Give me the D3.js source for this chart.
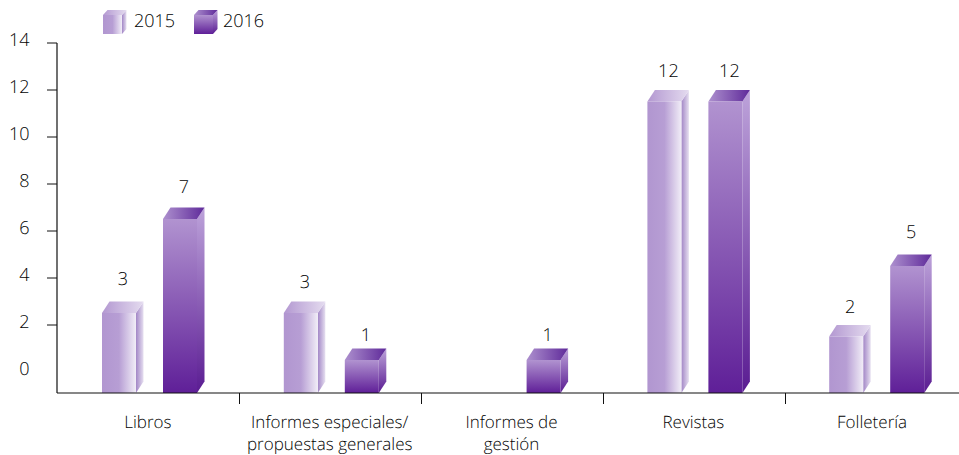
<!DOCTYPE html>
<html><head><meta charset="utf-8">
<script src="https://cdn.jsdelivr.net/npm/d3@7/dist/d3.min.js"></script>
<style>html,body{margin:0;padding:0;background:#fff}svg{display:block}text{font-family:"Open Sans","Noto Sans",sans-serif;font-weight:300;fill:#000;text-rendering:geometricPrecision;opacity:.99}</style>
</head><body><svg id="c" width="959" height="455"></svg>
<script>
const categories = [["Libros"],["Informes especiales/","propuestas generales"],["Informes de","gestión"],["Revistas"],["Folletería"]];
const seriesNames = ["2015","2016"];
const values2015 = [3,3,null,12,2];
const values2016 = [7,1,1,12,5];
const yTicks = [0,2,4,6,8,10,12,14];

const svg = d3.select("#c");
const x0 = d3.scaleBand().domain(d3.range(categories.length)).range([57,966]);
const x1 = d3.scaleBand().domain(seriesNames).range([45,140]).paddingInner(0.4426);
const y = d3.scaleLinear().domain([0,14]).range([372,43]);
const base = 393, dx = 7.5, dy = 11.5;
const labelGap = (v,i)=> v===1?8 : v===12?13 : v===2?12 : v===7?15 : (v===3&&i===1)?14 : 17;
const axisColor = "#111";

const defs = svg.append("defs");
function grad(id,dir,stops){
  const g = defs.append("linearGradient").attr("id",id).attr("x1",0).attr("y1",0)
    .attr("x2",dir==="h"?1:0).attr("y2",dir==="h"?0:1);
  stops.forEach((c,i)=>g.append("stop").attr("offset",i/(stops.length-1)).attr("stop-color",c));
}
grad("f15","h",["#b196d0","#b79ed4","#f1edf7"]);
grad("s15","h",["#a286c6","#e6dff0"]);
grad("t15","h",["#b398d1","#e4dbef"]);
grad("f16","v",["#b193d0","#5f1f98"]);
grad("s16","v",["#bda3da","#5a1c92"]);
grad("t16","h",["#ad90ce","#5f2a9a"]);
const key = {"2015":"15","2016":"16"};

function box(g,s,xl,w,yTop,yBot,ddx,ddy){
  const k = key[s];
  const pt = a=>a.map(p=>p.join(",")).join(" ");
  g.append("polygon").attr("points",pt([[xl+w,yTop+ddy],[xl+w+ddx,yTop],[xl+w+ddx,yBot-ddy],[xl+w,yBot]])).attr("fill",`url(#s${k})`);
  g.append("polygon").attr("points",pt([[xl,yTop+ddy],[xl+ddx,yTop],[xl+w+ddx,yTop],[xl+w,yTop+ddy]])).attr("fill",`url(#t${k})`);
  g.append("rect").attr("x",xl).attr("y",yTop+ddy).attr("width",w).attr("height",yBot-yTop-ddy).attr("fill",`url(#f${k})`);
}

// bars
[values2015,values2016].forEach((vals,si)=>{
  const s = seriesNames[si];
  vals.forEach((v,i)=>{
    if(v===null) return;
    const xl = x0(i)+x1(s), w = x1.bandwidth();
    box(svg.append("g"),s,xl,w,y(v),base,dx,dy);
    svg.append("text").attr("x",xl+w/2+4).attr("y",y(v)-labelGap(v,i)).attr("text-anchor","middle").attr("font-size",18).text(v);
  });
});

// y axis
const gy = svg.append("g");
gy.append("line").attr("x1",57).attr("x2",57).attr("y1",y(14)).attr("y2",base).attr("stroke",axisColor).attr("stroke-width",1.2);
yTicks.forEach(t=>{
  if(t>0) gy.append("line").attr("x1",47).attr("x2",57).attr("y1",y(t)).attr("y2",y(t)).attr("stroke",axisColor).attr("stroke-width",1);
  gy.append("text").attr("x",29.5).attr("y",y(t)+3).attr("text-anchor","end").attr("font-size",18).text(t);
});
// x axis
const gx = svg.append("g");
gx.append("line").attr("x1",57).attr("x2",959).attr("y1",base).attr("y2",base).attr("stroke",axisColor).attr("stroke-width",1.2);
d3.range(1,categories.length).forEach(i=>{
  const tx = Math.ceil(x0(i))+0.5;
  gx.append("line").attr("x1",tx).attr("x2",tx).attr("y1",base).attr("y2",404).attr("stroke",axisColor);
});
categories.forEach((lines,i)=>{
  lines.forEach((l,j)=>gx.append("text").attr("x",x0(i)+x0.bandwidth()/2-(i===4?3:0)).attr("y",428+j*21.5).attr("text-anchor","middle").attr("font-size",17).text(l));
});

// legend
const legendX = {"2015":103,"2016":194}, legendT = {"2015":134,"2016":223};
seriesNames.forEach(s=>{
  box(svg.append("g"),s,legendX[s],19,10,34,4.5,5);
  svg.append("text").attr("x",legendT[s]).attr("y",27).attr("font-size",18).text(s);
});
</script></body></html>
